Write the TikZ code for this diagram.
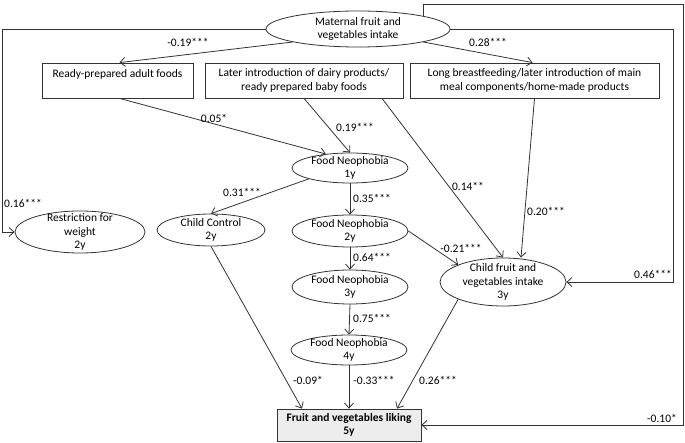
\documentclass[tikz,border=0pt]{standalone}
\usepackage{fontspec}
\setmainfont{Carlito}
\usetikzlibrary{arrows.meta,shapes.geometric}

\begin{document}
\begin{tikzpicture}[x=1pt,y=-1pt,line width=0.8pt,draw=black!80,
        font=\fontsize{11.5}{13.5}\selectfont,
        >={Straight Barb[length=5pt,width=9pt]},
        lat/.style={ellipse,draw,align=center,inner xsep=0pt,inner ysep=-2pt},
        obs/.style={rectangle,draw,align=center,inner sep=0pt,minimum height=35pt},
        coef/.style={inner sep=0pt}]
        \useasboundingbox (0,0) rectangle (685,443);

        \node [lat,minimum width=184pt,minimum height=36pt] (0) at (358,29) {Maternal fruit and\\vegetables intake};
        \node [obs,minimum width=151pt] (1) at (117.5,80.5) {Ready-prepared adult foods\\ \mbox{}};
        \node [obs,minimum width=198pt] (2) at (304,80.5) {Later introduction of dairy products/\\ready prepared baby foods};
        \node [obs,minimum width=249pt] (3) at (534.5,80.5) {Long breastfeeding/later introduction of main\\meal components/home-made products};
        \node [lat,minimum width=116pt,minimum height=30pt] (4) at (350,168) {Food Neophobia\\1y};
        \node [lat,minimum width=130pt,minimum height=42pt,inner ysep=-4.3pt] (5) at (80,232) {Restriction for\\weight\\2y};
        \node [lat,minimum width=108pt,minimum height=32pt] (6) at (211,230) {Child Control\\2y};
        \node [lat,minimum width=116pt,minimum height=32pt] (7) at (350,231) {Food Neophobia\\2y};
        \node [lat,minimum width=116pt,minimum height=34pt] (8) at (350,287) {Food Neophobia\\3y};
        \node [lat,minimum width=116pt,minimum height=30pt] (9) at (349,350) {Food Neophobia\\4y};
        \node [lat,minimum width=126pt,minimum height=48pt,inner ysep=-2.2pt] (10) at (503,282) {Child fruit and\\vegetables intake\\3y};
        \node [obs,minimum width=144pt,minimum height=32pt,fill=black!7,font=\fontsize{11.5}{13.5}\selectfont\bfseries] (11) at (349,425) {Fruit and vegetables liking\\5y};
        \coordinate (t) at (683,4);

        \draw[->] (0.south west) to ([xshift=2pt]1.north);
        \draw[->] (0.south east) to ([xshift=-2pt]3.north);
        \draw[->] ([xshift=2pt]1.south) to (4.150);
        \draw[->] (2.south) to (4.north);
        \draw[->] ([xshift=78pt]2.south) to (10.north);
        \draw[->] (3.south) to ([xshift=18pt]10.north);
        \draw[->] (4.south west) to (6.north);
        \draw[->] (4.south) to (7.north);
        \draw[->] (7.south) to (8.north);
        \draw[->] (8.south) to (9.north);
        \draw[->] (7.east) to (10.north west);
        \draw[->] (6.south) to ([xshift=-47pt]11.north);
        \draw[->] (9.south) to (11.north);
        \draw[->] (10.south west) to ([xshift=48pt]11.north);
        \draw[->] (0.west) -| ([xshift=-12pt]5.west) -- (5.west);
        \draw[->] (0.east) -| ([xshift=107pt]10.east) -- (10.east);
        \draw[->] (0.north east) |- (t) |- (11.east);

        \node [coef] (l0) at (188,42) {-0.19***};
        \node [coef] (l1) at (488,42) {0.28***};
        \node [coef] (l2) at (214,118) {0.05*};
        \node [coef] (l3) at (355,127) {0.19***};
        \node [coef] (l4) at (468,186) {0.14**};
        \node [coef] (l5) at (546,211) {0.20***};
        \node [coef] (l6) at (242,192) {0.31***};
        \node [coef] (l7) at (23,203) {0.16***};
        \node [coef] (l8) at (372,198) {0.35***};
        \node [coef] (l9) at (372,257) {0.64***};
        \node [coef] (l10) at (372,318) {0.75***};
        \node [coef] (l11) at (461,248) {-0.21***};
        \node [coef] (l12) at (653,274) {0.46***};
        \node [coef] (l13) at (308,380) {-0.09*};
        \node [coef] (l14) at (374,380) {-0.33***};
        \node [coef] (l15) at (438,380) {0.26***};
        \node [coef] (l16) at (662,418) {-0.10*};
\end{tikzpicture}
\end{document}
